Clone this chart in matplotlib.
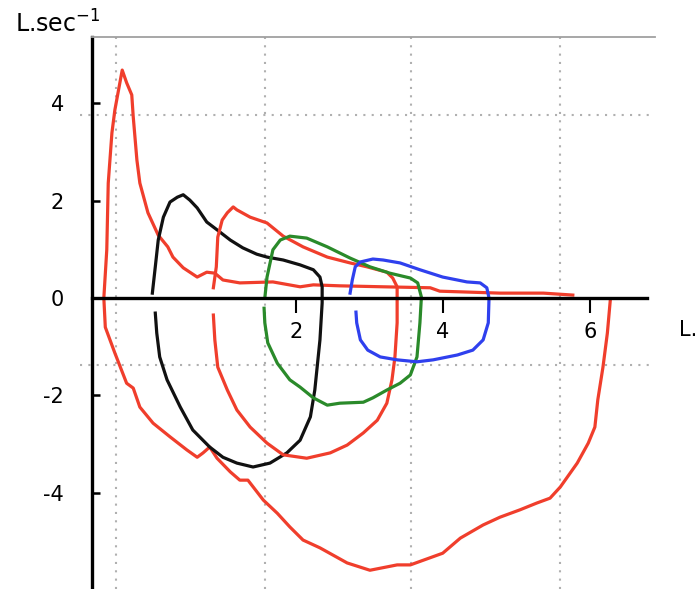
import matplotlib
matplotlib.use('Agg')
import matplotlib.pyplot as plt

# ---- data (volume in L, flow in L/s) ----
big_red_vol = [5.77, 5.37, 4.78, 3.96, 3.83, 3.19, 2.60, 2.24, 2.06, 1.69, 1.24, 1.01, 0.90, 0.79, 0.66,
               0.47, 0.33, 0.26, 0.13, -0.01, -0.12, -0.16, -0.21, -0.23, -0.30, -0.36, -0.46, -0.50,
               -0.55, -0.57, -0.61,
               -0.59, -0.46, -0.30, -0.21, -0.12, 0.06, 0.29, 0.52, 0.66, 0.74, 0.83, 0.93, 1.11, 1.24,
               1.35, 1.56, 1.75, 1.92, 2.10, 2.33, 2.70, 3.01, 3.38, 3.56, 4.00, 4.24, 4.55, 4.78, 5.05,
               5.28, 5.46, 5.60, 5.83, 5.98, 6.07, 6.11, 6.18, 6.24, 6.28]
big_red_flow = [0.06, 0.10, 0.10, 0.14, 0.21, 0.23, 0.25, 0.27, 0.23, 0.33, 0.31, 0.37, 0.51, 0.53, 0.43,
                0.62, 0.84, 1.05, 1.29, 1.75, 2.36, 2.83, 3.72, 4.17, 4.42, 4.68, 3.86, 3.39, 2.36, 0.99,
                0.0,
                -0.60, -1.13, -1.75, -1.85, -2.24, -2.57, -2.85, -3.12, -3.27, -3.18, -3.06, -3.29, -3.57,
                -3.74, -3.74, -4.15, -4.42, -4.70, -4.97, -5.13, -5.44, -5.59, -5.48, -5.48, -5.24, -4.93,
                -4.66, -4.50, -4.35, -4.21, -4.11, -3.88, -3.39, -2.98, -2.65, -2.09, -1.42, -0.72, -0.04]

black_vol = [0.05, 0.09, 0.13, 0.20, 0.29, 0.39, 0.47, 0.56, 0.66, 0.79, 0.93, 1.11, 1.28, 1.47, 1.61,
             1.83, 2.06, 2.24, 2.33, 2.36, 2.36,
             2.33, 2.26, 2.20, 2.06, 1.88, 1.65, 1.42, 1.20, 1.01, 0.83, 0.60, 0.43, 0.25, 0.15, 0.11, 0.09]
black_flow = [0.10, 0.64, 1.19, 1.66, 1.97, 2.07, 2.12, 2.01, 1.85, 1.56, 1.40, 1.19, 1.03, 0.90, 0.84,
              0.78, 0.68, 0.58, 0.43, 0.23, -0.10,
              -0.86, -1.89, -2.44, -2.92, -3.18, -3.39, -3.47, -3.39, -3.27, -3.06, -2.71, -2.24, -1.68,
              -1.21, -0.72, -0.31]

red_vol = [0.88, 0.92, 0.94, 1.00, 1.07, 1.15, 1.20, 1.38, 1.61, 1.83, 2.10, 2.43, 2.74, 2.97, 3.24, 3.32,
           3.38, 3.38, 3.35, 3.31, 3.24, 3.11, 2.92, 2.70, 2.47, 2.15, 1.83, 1.61, 1.38, 1.20, 1.07, 0.94,
           0.90, 0.88]
red_flow = [0.21, 0.64, 1.25, 1.60, 1.75, 1.87, 1.81, 1.66, 1.54, 1.27, 1.05, 0.84, 0.72, 0.64, 0.53, 0.41,
            0.23, -0.51, -1.21, -1.68, -2.16, -2.51, -2.77, -3.02, -3.18, -3.29, -3.22, -2.98, -2.65, -2.30,
            -1.89, -1.42, -0.86, -0.35]

green_vol = [1.58, 1.61, 1.69, 1.79, 1.92, 2.15, 2.43, 2.74, 3.01, 3.28, 3.56, 3.66, 3.71, 3.69, 3.65,
             3.56, 3.42, 3.24, 3.05, 2.92, 2.60, 2.43, 2.24, 2.06, 1.92, 1.75, 1.62, 1.58, 1.57]
green_flow = [0.0, 0.43, 0.99, 1.19, 1.27, 1.23, 1.05, 0.82, 0.64, 0.51, 0.41, 0.31, 0.02, -0.51, -1.21,
              -1.58, -1.75, -1.89, -2.05, -2.14, -2.16, -2.20, -2.05, -1.83, -1.68, -1.34, -0.92, -0.51,
              -0.21]

blue_vol = [2.74, 2.77, 2.81, 2.88, 3.05, 3.19, 3.42, 3.69, 4.00, 4.33, 4.51, 4.60, 4.63, 4.62, 4.55, 4.41,
            4.20, 3.87, 3.65, 3.38, 3.15, 2.98, 2.88, 2.83, 2.82]
blue_flow = [0.10, 0.37, 0.64, 0.74, 0.80, 0.78, 0.72, 0.58, 0.43, 0.33, 0.31, 0.21, 0.0, -0.51, -0.86,
             -1.07, -1.17, -1.27, -1.31, -1.27, -1.21, -1.07, -0.86, -0.51, -0.29]

x_ticks = [2, 4, 6]
y_ticks = [-4, -2, 0, 2, 4]
x_grid = [-0.445, 1.582, 3.568, 5.595]
y_grid = [3.758, -1.376]

# ---- figure ----
fig = plt.figure(figsize=(6.98, 5.89), dpi=100)
ax = fig.add_axes([92 / 698, 0, 563 / 698, 552 / 589])
xmin, xmax = -0.771, 6.888
ymin, ymax = -5.975, 5.359
ax.set_xlim(xmin, xmax)
ax.set_ylim(ymin, ymax)

grid_kw = dict(color='#b0b0b0', lw=1.5, ls=(0, (1, 3)), zorder=1)
for gx in x_grid:
    ax.plot([gx, gx], [ymin, ymax], **grid_kw)
for gy in y_grid:
    ax.plot([-0.935, xmax], [gy, gy], clip_on=False, **grid_kw)

lw = 2.3
ax.plot(big_red_vol, big_red_flow, color='#f03e2c', lw=lw, zorder=2, solid_joinstyle='round')
ax.plot(black_vol, black_flow, color='#111111', lw=lw, zorder=2, solid_joinstyle='round')
ax.plot(red_vol, red_flow, color='#f03e2c', lw=lw, zorder=2, solid_joinstyle='round')
ax.plot(green_vol, green_flow, color='#2a8a2a', lw=lw, zorder=2, solid_joinstyle='round')
ax.plot(blue_vol, blue_flow, color='#2f40ee', lw=lw, zorder=2, solid_joinstyle='round')

ax.spines['right'].set_visible(False)
ax.spines['top'].set_color('#a0a0a0')
ax.spines['top'].set_linewidth(1.3)
ax.spines['left'].set_color('black')
ax.spines['left'].set_linewidth(2.4)
ax.spines['bottom'].set_position(('data', 0))
ax.spines['bottom'].set_color('black')
ax.spines['bottom'].set_linewidth(2.4)
ax.spines['bottom'].set_bounds(xmin, 6.78)

ax.set_xticks(x_ticks)
ax.set_xticklabels([str(v) for v in x_ticks])
ax.set_yticks(y_ticks)
ax.set_yticklabels([str(v) for v in y_ticks])
ax.tick_params(axis='x', direction='out', length=11, width=1.5, pad=6, labelsize=15)
ax.tick_params(axis='y', direction='in', length=6, width=1.8, pad=20, labelsize=15)

fig.text(15 / 698, 1 - 24 / 589, 'L.sec$^{-1}$', fontsize=17, va='center', ha='left')
fig.text(679 / 698, 1 - 330 / 589, 'L.', fontsize=15, va='center', ha='left')

fig.savefig('out.png', dpi=100)
